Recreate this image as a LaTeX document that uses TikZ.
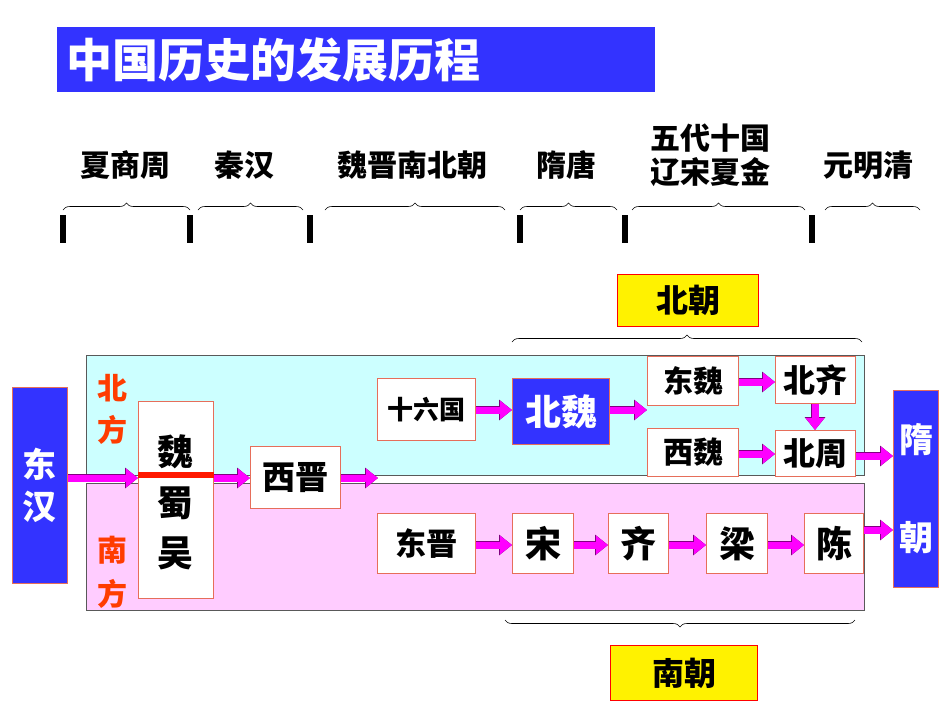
\documentclass[tikz,border=0pt]{standalone}
\usepackage{fontspec}
\setmainfont{Noto Sans CJK SC}
\usetikzlibrary{decorations.pathreplacing,arrows.meta}
\definecolor{tblue}{RGB}{51,51,255}
\definecolor{rborder}{RGB}{230,110,90}
\definecolor{cyanbg}{RGB}{204,255,255}
\definecolor{pinkbg}{RGB}{255,204,255}
\definecolor{lab}{RGB}{255,60,0}
\definecolor{mag}{RGB}{255,0,255}
\begin{document}
\begin{tikzpicture}[x=1pt,y=-1pt,
  box/.style={draw=rborder,fill=white,line width=1pt,inner sep=0,font=\bfseries\fontsize{36}{38}\selectfont},
  bbox/.style={draw=rborder,fill=tblue,text=white,line width=1pt,inner sep=0,font=\bfseries\fontsize{34}{36}\selectfont},
  ybox/.style={draw=red,fill=yellow,line width=1pt,inner sep=0,font=\bfseries\fontsize{32}{34}\selectfont},
  era/.style={font=\bfseries\fontsize{30}{34}\selectfont,align=center},
  side/.style={text=lab,font=\bfseries\fontsize{30}{32}\selectfont},
  brup/.style={decorate,decoration={brace,amplitude=7pt},line width=0.6pt},
  mid/.style={font=\bfseries\fontsize{36}{38}\selectfont},
  arr/.style={mag,line width=7pt,-{Triangle[length=12pt,width=18pt]},
     preaction={draw=mag!50!black,line width=8.5pt,-{Triangle[length=13pt,width=20pt]}}}]
\useasboundingbox (0,0) rectangle (950,713);
% title
\fill[tblue] (57,27) rectangle (655,92);
\node[text=white,anchor=west,inner sep=0,font=\bfseries\fontsize{46}{48}\selectfont] (title) at (66,60) {中国历史的发展历程};
% eras
\node[era] (e1) at (125,165) {夏商周};
\node[era] (e2) at (244,165) {秦汉};
\node[era] (e3) at (412,165) {魏晋南北朝};
\node[era] (e4) at (566,165) {隋唐};
\node[era] (e5) at (710,155) {五代十国\\辽宋夏金};
\node[era] (e6) at (868,165) {元明清};
\draw[brup] (63,210) -- (190,210);
\draw[brup] (198,210) -- (303,210);
\draw[brup] (325,210) -- (505,210);
\draw[brup] (520,210) -- (617,210);
\draw[brup] (632,210) -- (805,210);
\draw[brup] (825,210) -- (920,210);
\foreach \x in {63,190,310,520,625,812}{\fill (\x-3,215) rectangle (\x+3,243);}
% regions
\fill[cyanbg] (86,355) rectangle (864,475);
\fill[pinkbg] (86,483) rectangle (864,610);
\draw[gray!70!black,line width=0.6pt] (86,355) rectangle (864,475);
\draw[gray!70!black,line width=0.6pt] (86,483) rectangle (864,610);
\node[ybox,minimum width=141pt,minimum height=52pt,anchor=north west] (bc) at (617,274) {北朝};
\draw[brup] (512,342) -- (862,342);
\node[ybox,minimum width=147pt,minimum height=55pt,anchor=north west] (nc) at (610,645) {南朝};
\draw[brup] (855,620) -- (505,620);
% side labels
\node[side] (l1) at (112,388) {北};
\node[side] (l2) at (112,430) {方};
\node[side] (l3) at (112,550) {南};
\node[side] (l4) at (112,594) {方};
% boxes
\node[bbox,minimum width=55pt,minimum height=196pt,anchor=north west,align=center] (dh) at (12,387) {东\\[6pt]汉};
\node[bbox,minimum width=45pt,minimum height=197pt,anchor=north west,align=center] (sui) at (893,390) {隋\\[62pt]朝};
\node[box,minimum width=75pt,minimum height=197pt,anchor=north west] (wsw) at (138,401) {};
\node[mid] (w) at (175.5,452) {魏};
\node[mid] (s) at (175.5,503) {蜀};
\node[mid] (wu) at (175.5,553) {吴};
\draw[red!80!orange,line width=6pt] (wsw.west |- 0,475) -- (wsw.east |- 0,475);
\node[box,minimum width=90pt,minimum height=62pt,anchor=north west,font=\bfseries\fontsize{33}{35}\selectfont] (xj) at (250,446) {西晋};
\coordinate (xjend) at (378,478);
\node[box,minimum width=98pt,minimum height=62pt,anchor=north west,font=\bfseries\fontsize{26}{28}\selectfont] (sl) at (377,378) {十六国};
\node[bbox,minimum width=97pt,minimum height=66pt,anchor=north west,font=\bfseries\fontsize{36}{38}\selectfont] (bw) at (512,378) {北魏};
\node[box,minimum width=91pt,minimum height=49pt,anchor=north west,font=\bfseries\fontsize{30}{32}\selectfont] (dw) at (647,356) {东魏};
\node[box,minimum width=80pt,minimum height=47pt,anchor=north west,font=\bfseries\fontsize{32}{34}\selectfont] (bq) at (775,356) {北齐};
\node[box,minimum width=91pt,minimum height=48pt,anchor=north west,font=\bfseries\fontsize{30}{32}\selectfont] (xw) at (647,428) {西魏};
\node[box,minimum width=80pt,minimum height=46pt,anchor=north west,font=\bfseries\fontsize{32}{34}\selectfont] (bz) at (775,430) {北周};
\node[box,minimum width=98pt,minimum height=60pt,anchor=north west,font=\bfseries\fontsize{31}{33}\selectfont] (dj) at (377,513) {东晋};
\node[box,minimum width=61pt,minimum height=60pt,anchor=north west] (song) at (512,513) {宋};
\node[box,minimum width=60pt,minimum height=60pt,anchor=north west] (qi) at (608,513) {齐};
\node[box,minimum width=61pt,minimum height=60pt,anchor=north west] (liang) at (706,513) {梁};
\node[box,minimum width=59pt,minimum height=60pt,anchor=north west] (chen) at (804,513) {陈};
% arrows
\draw[arr] (dh.east |- 0,478) -- (wsw.west |- 0,478);
\draw[arr] (wsw.east |- 0,478) -- (xj.west |- 0,478);
\draw[arr] (xj.east |- 0,478) -- (xjend);
\draw[arr] (sl.east |- 0,410) -- (bw.west |- 0,410);
\draw[arr] (bw.east |- 0,410) -- (dw.west |- 0,410);
\draw[arr] (dw.east |- 0,382) -- (bq.west |- 0,382);
\draw[arr] (xw.east |- 0,454) -- (bz.west |- 0,454);
\draw[arr] (bq.south -| 815,0) -- (bz.north -| 815,0);
\draw[arr] (bz.east |- 0,456) -- (sui.west |- 0,456);
\draw[arr] (dj.east |- 0,545) -- (song.west |- 0,545);
\draw[arr] (song.east |- 0,545) -- (qi.west |- 0,545);
\draw[arr] (qi.east |- 0,545) -- (liang.west |- 0,545);
\draw[arr] (liang.east |- 0,545) -- (chen.west |- 0,545);
\draw[arr] (chen.east |- 0,530) -- (sui.west |- 0,530);
\end{tikzpicture}
\end{document}
